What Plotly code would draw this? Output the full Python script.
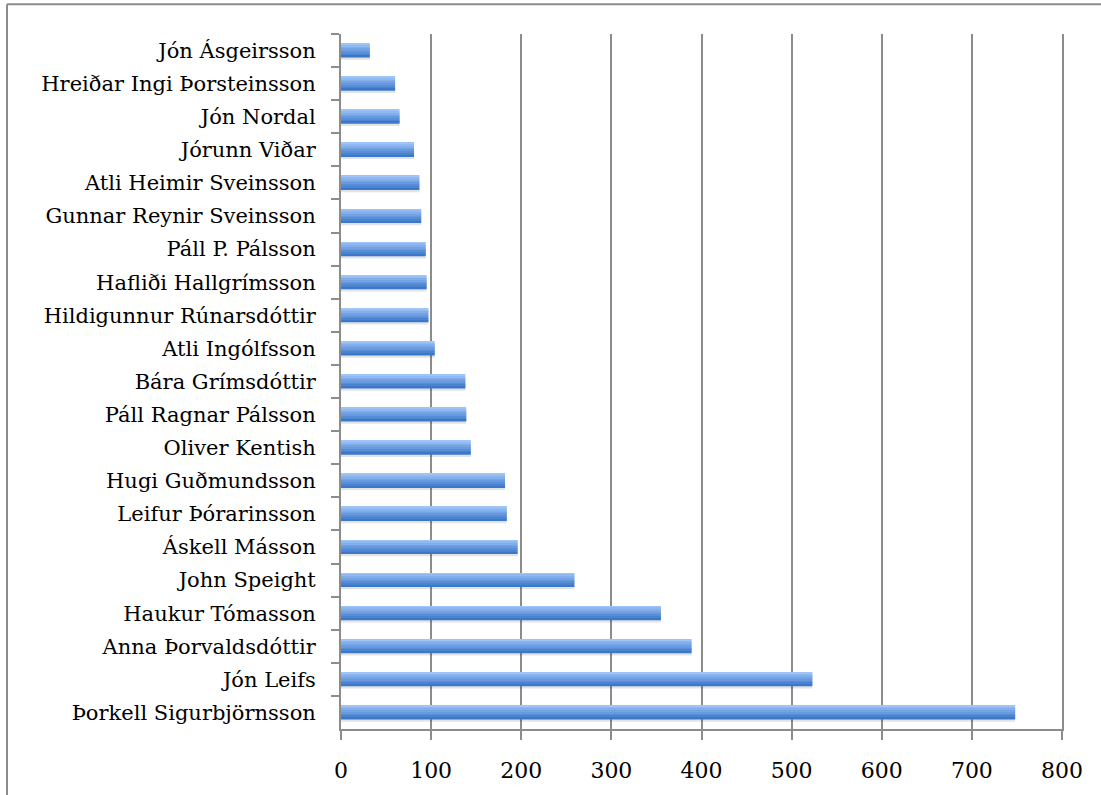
import plotly.graph_objects as go

# Compositores, de arriba hacia abajo
nombres = [
    "Jón Ásgeirsson", "Hreiðar Ingi Þorsteinsson", "Jón Nordal", "Jórunn Viðar",
    "Atli Heimir Sveinsson", "Gunnar Reynir Sveinsson", "Páll P. Pálsson",
    "Hafliði Hallgrímsson", "Hildigunnur Rúnarsdóttir", "Atli Ingólfsson",
    "Bára Grímsdóttir", "Páll Ragnar Pálsson", "Oliver Kentish", "Hugi Guðmundsson",
    "Leifur Þórarinsson", "Áskell Másson", "John Speight", "Haukur Tómasson",
    "Anna Þorvaldsdóttir", "Jón Leifs", "Þorkell Sigurbjörnsson",
]
valores = [32, 60, 65, 81, 87, 89, 94, 95, 97, 104, 138, 139, 144, 182, 184, 196,
           259, 355, 389, 523, 748]
ticks_x = [0, 100, 200, 300, 400, 500, 600, 700, 800]

fig = go.Figure()

ancho = 0.42
# sombra bajo cada barra
fig.add_trace(go.Bar(
    y=nombres, x=valores, orientation="h", width=ancho, offset=-ancho / 2 + 0.07,
    marker=dict(color="rgba(0,0,0,0.11)", line_width=0), hoverinfo="skip",
))

# degradado vertical simulado con franjas (claro arriba, oscuro abajo)
c_top = (158, 196, 248)
c_bot = (60, 120, 201)
n = 8
for i in range(n):
    t = i / (n - 1)
    col = tuple(round(a + (b - a) * t) for a, b in zip(c_top, c_bot))
    fig.add_trace(go.Bar(
        y=nombres, x=valores, orientation="h",
        width=ancho / n + 0.002, offset=-ancho / 2 + i * ancho / n,
        marker=dict(color="rgb(%d,%d,%d)" % col, line_width=0),
        hoverinfo="x+y" if i == 0 else "skip",
    ))

W, H = 1101, 795
L, R, T, B = 341, 39, 34, 62
pw, ph = W - L - R, H - T - B

# marco exterior: solo se ven los bordes izquierdo y superior
x_izq = (7 - L) / pw
y_sup = (T + ph - 4) / ph

fig.update_layout(
    width=W, height=H,
    barmode="overlay",
    showlegend=False,
    plot_bgcolor="white",
    paper_bgcolor="white",
    margin=dict(l=L, r=R, t=T, b=B),
    font=dict(family="DejaVu Serif", size=21, color="black"),
    xaxis=dict(
        range=[0, 800], tickvals=ticks_x, showgrid=True, gridcolor="#8c8c8c",
        gridwidth=2, zeroline=False, showline=True, linecolor="#8c8c8c",
        linewidth=2, ticks="outside", ticklen=9, tickcolor="#8c8c8c", tickwidth=2,
        ticklabelstandoff=12, tickfont=dict(size=22), fixedrange=True,
    ),
    yaxis=dict(
        type="category", categoryorder="array", categoryarray=nombres,
        autorange="reversed", showline=True, mirror=True, linecolor="#8c8c8c",
        linewidth=2, ticks="outside", ticklen=8, tickcolor="#8c8c8c", tickwidth=2,
        tickson="boundaries", ticklabelstandoff=19, showgrid=False,
        tickfont=dict(size=21), fixedrange=True,
    ),
    shapes=[
        dict(type="line", xref="paper", yref="paper", x0=x_izq, x1=x_izq,
             y0=(T + ph - 800) / ph, y1=y_sup,
             line=dict(color="#8c8c8c", width=2), layer="below"),
        dict(type="line", xref="paper", yref="paper", x0=x_izq, x1=(1110 - L) / pw,
             y0=y_sup, y1=y_sup,
             line=dict(color="#8c8c8c", width=2), layer="below"),
    ],
)

# quitar el margen por defecto del <body> para que la figura empiece en (0, 0)
fig.write_html("out.html", config={"displayModeBar": False},
               post_script="document.body.style.margin='0';")
